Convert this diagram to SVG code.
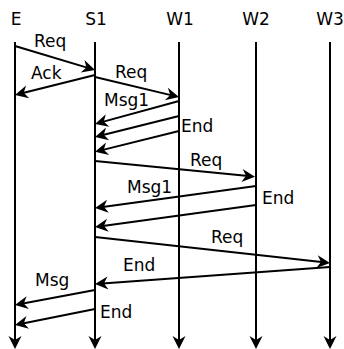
<svg xmlns="http://www.w3.org/2000/svg" width="344" height="349" viewBox="0 0 344 349">
<style>
text{font-family:"DejaVu Sans","Liberation Sans",sans-serif;font-size:17px;fill:#000}
.ll{stroke:#000;stroke-width:2;fill:none;marker-end:url(#ah)}
.msg{stroke:#000;stroke-width:2;fill:none;marker-end:url(#ah)}
.hd{text-anchor:middle}
</style>
<defs>
<marker id="ah" markerUnits="userSpaceOnUse" markerWidth="20" markerHeight="20" viewBox="-10 -10 20 20" refX="0" refY="0" orient="auto" overflow="visible">
<path d="M4,0 L-9,-6.5 L-5,0 L-9,6.5 Z" fill="#000"/>
</marker>
</defs>
<rect width="344" height="349" fill="#fff"/>
<g id="E"><text class="hd" x="16" y="25">E</text><line class="ll" x1="15" y1="42" x2="15" y2="345"/></g>
<g id="S1"><text class="hd" x="96" y="25">S1</text><line class="ll" x1="95" y1="42" x2="95" y2="345"/></g>
<g id="W1"><text class="hd" x="180" y="25">W1</text><line class="ll" x1="179" y1="42" x2="179" y2="345"/></g>
<g id="W2"><text class="hd" x="256" y="25">W2</text><line class="ll" x1="256" y1="42" x2="256" y2="345"/></g>
<g id="W3"><text class="hd" x="330" y="25">W3</text><line class="ll" x1="330" y1="42" x2="330" y2="345"/></g>
<g id="connectors">
<line class="msg" x1="15" y1="46" x2="91.2" y2="68.9"/>
<line class="msg" x1="95" y1="75" x2="18.9" y2="94"/>
<line class="msg" x1="95" y1="77" x2="175.1" y2="96.1"/>
<line class="msg" x1="179" y1="101" x2="98.9" y2="122.9"/>
<line class="msg" x1="179" y1="116" x2="98.9" y2="136"/>
<line class="msg" x1="179" y1="131" x2="98.9" y2="150.9"/>
<line class="msg" x1="95" y1="161" x2="251" y2="176.3"/>
<line class="msg" x1="256" y1="186" x2="99" y2="207.5"/>
<line class="msg" x1="256" y1="205" x2="99" y2="226.5"/>
<line class="msg" x1="95" y1="237" x2="326" y2="262.6"/>
<line class="msg" x1="330" y1="267" x2="99" y2="283.7"/>
<line class="msg" x1="95" y1="290" x2="18.9" y2="304.3"/>
<line class="msg" x1="95" y1="309" x2="18.9" y2="324.2"/>
</g>
<g id="labels">
<text x="34" y="47">Req</text>
<text x="31" y="79">Ack</text>
<text x="115" y="78">Req</text>
<text x="104" y="106">Msg1</text>
<text x="181" y="132">End</text>
<text x="190" y="166">Req</text>
<text x="127" y="193">Msg1</text>
<text x="262" y="204">End</text>
<text x="211" y="243">Req</text>
<text x="123" y="271">End</text>
<text x="35" y="286">Msg</text>
<text x="100" y="318">End</text>
</g>
</svg>
